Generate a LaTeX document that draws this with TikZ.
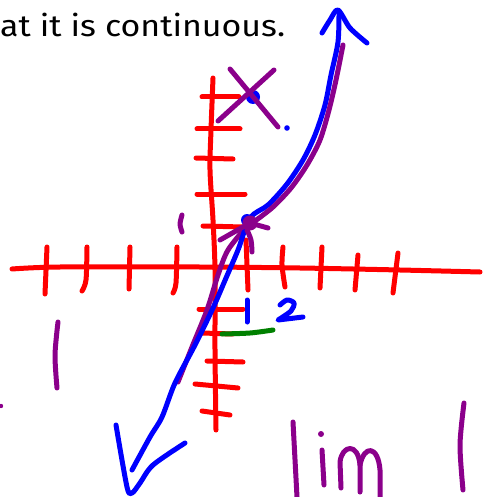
\documentclass[tikz,border=0pt]{standalone}
\usepackage{fontspec}
\setmainfont{Fira Sans}
\definecolor{penred}{RGB}{255,0,0}
\definecolor{penblue}{RGB}{0,0,255}
\definecolor{penpurple}{RGB}{139,0,139}
\definecolor{pengreen}{RGB}{0,128,0}
\tikzset{
  pen/.style={line width=5pt,line cap=round,line join=round},
  redpen/.style={pen,draw=penred},
  bluepen/.style={pen,draw=penblue},
  purplepen/.style={pen,draw=penpurple},
  greenpen/.style={pen,draw=pengreen},
}
\begin{document}
\begin{tikzpicture}[x=1pt,y=-1pt]
\useasboundingbox (0,0) rectangle (482,497);
% title text
\node[anchor=base west,inner sep=0pt,xscale=1.13,font=\fontsize{30}{33}\selectfont] (title) at (0,37) {at it is continuous.};
% red axes
\draw[redpen] plot[smooth] coordinates {(12,269) (60,267) (200,267) (300,268) (400,270) (480,272)};
\draw[redpen] plot[smooth] coordinates {(213,78) (211,130) (210,170) (213,220) (215,270) (215,350) (216,430)};
% x ticks
\draw[redpen] (47,247) -- (45,294);
\draw[redpen] plot[smooth] coordinates {(87,247) (86,280) (82,291)};
\draw[redpen] (130,247) -- (129,289);
\draw[redpen] plot[smooth] coordinates {(177,247) (176,283) (173,293)};
\draw[redpen] (246,240) -- (248,290);
\draw[redpen] plot[smooth] coordinates {(283,247) (282,265) (285,287)};
\draw[redpen] (322,247) -- (320,288);
\draw[redpen] (358,255) -- (355,290);
\draw[redpen] (398,253) -- (393,293);
% y ticks
\draw[redpen] (202,97) -- (239,97);
\draw[redpen] (197,129) -- (240,129);
\draw[redpen] (196,158) -- (233,159);
\draw[redpen] (197,194) -- (245,194);
\draw[redpen] (203,226) -- (243,227);
\draw[redpen] (199,309) -- (243,309);
\draw[redpen] (202,333) -- (233,334);
\draw[redpen] (207,361) -- (243,362);
\draw[redpen] (195,384) -- (238,388);
\draw[redpen] (202,411) -- (230,415);
% green mark
\draw[greenpen] plot[smooth] coordinates {(222,334) (250,333) (273,330)};
% purple lower line
\draw[purplepen] plot[smooth] coordinates {(247,226) (228,250) (218,275) (207,310) (192,347) (178,382)};
% blue curve with arrows
\draw[bluepen] plot[smooth] coordinates {(339,12) (338,42) (331,75) (325,105) (315,135) (303,160) (287,184) (268,205) (250,218) (238,250) (226,278) (213,308) (195,345) (175,383) (162,417) (150,437) (132,470)};
\draw[bluepen] plot[smooth] coordinates {(322,33) (330,20) (338,10) (350,28) (367,43)};
\draw[bluepen] plot[smooth] coordinates {(116,425) (127,487) (132,493) (140,483) (153,465) (185,443)};
\fill[penblue] (247,220) circle[radius=6pt];
% purple upper curve
\draw[purplepen] plot[smooth] coordinates {(343,45) (336,80) (329,110) (320,140) (307,165) (291,188) (273,207) (255,221)};
\fill[penpurple] (250,223) circle[radius=7.5pt];
\draw[purplepen] (250,223) -- (220,240);
\draw[purplepen] (250,223) -- (268,228);
\draw[purplepen] plot[smooth] coordinates {(247,230) (251,240) (252,252)};
% X with dots
\fill[penblue] (253,97) circle[radius=7pt];
\fill[penblue] (287,128) circle[radius=2.8pt];
\draw[purplepen] (230,69) -- (278,127);
\draw[purplepen] (274,70) -- (218,121);
% small purple marks
\draw[purplepen] plot[smooth] coordinates {(182,215) (180,224) (182,232)};
\draw[purplepen] plot[smooth] coordinates {(58,322) (55,355) (57,388)};
\fill[penpurple] (1,406) circle[radius=2.2pt];
% blue 1 and 2
\draw[bluepen] (247,300) -- (247,322);
\draw[bluepen] plot[smooth] coordinates {(280,305) (287,300) (294,303) (291,311) (278,320)} -- (303,317);
% lim and bar
\draw[purplepen] (293,422) -- (297,497);
\fill[penpurple] (321,434) circle[radius=3pt];
\draw[purplepen] (322,450) -- (324,485);
\draw[purplepen] (341,488) -- (340,462) .. controls (342,445) and (358,442) .. (360,465) -- (360,492);
\draw[purplepen] (360,465) .. controls (364,445) and (378,445) .. (380,470) -- (380,497);
\draw[purplepen] plot[smooth] coordinates {(464,403) (460,445) (463,490)};
\end{tikzpicture}
\end{document}
